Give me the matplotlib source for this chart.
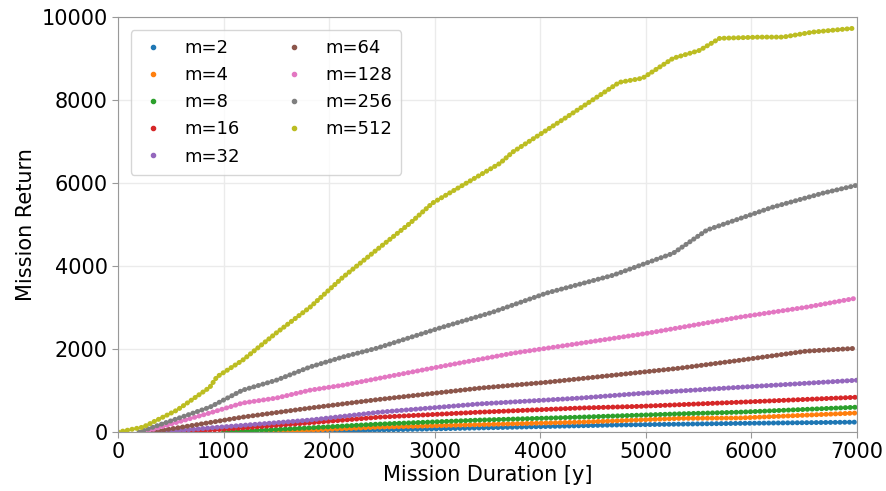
import matplotlib
matplotlib.use("Agg")
import matplotlib.pyplot as plt
from matplotlib.lines import Line2D

# values (x = mission duration, y = mission return)
labels = ["m=2", "m=4", "m=8", "m=16", "m=32", "m=64", "m=128", "m=256", "m=512"]
colors = ["tab:blue", "tab:orange", "tab:green", "tab:red", "tab:purple",
          "tab:brown", "tab:pink", "tab:gray", "tab:olive"]

x_m2 = [1800, 2480, 3430, 4690, 5890, 7000]
y_m2 = [0, 50, 100, 170, 210, 240]
x_m4 = [1400, 2480, 3430, 4380, 5320, 5890, 7000]
y_m4 = [0, 120, 180, 240, 330, 340, 460]
x_m8 = [1000, 1800, 2450, 3430, 4380, 5320, 5890, 7000]
y_m8 = [0, 100, 190, 290, 360, 440, 480, 600]
x_m16 = [600, 1180, 1800, 2480, 3430, 4380, 4940, 5890, 7000]
y_m16 = [0, 100, 220, 360, 480, 580, 620, 720, 840]
x_m32 = [400, 870, 1820, 2480, 3430, 4380, 4940, 5890, 7000]
y_m32 = [0, 100, 290, 480, 680, 820, 930, 1080, 1250]
x_m64 = [300, 560, 1180, 1820, 2450, 3430, 4060, 4690, 5320, 5890, 6520, 7000]
y_m64 = [0, 100, 360, 580, 780, 1060, 1200, 1370, 1540, 1730, 1950, 2020]
x_m128 = [250, 400, 870, 1180, 1500, 1820, 2130, 2480, 3120, 3740, 4380, 5010, 5890, 6520, 7000]
y_m128 = [0, 120, 460, 700, 820, 1010, 1130, 1300, 1610, 1900, 2140, 2380, 2770, 3010, 3230]
x_m256 = [200, 400, 870, 1180, 1500, 1820, 2130, 2450, 3050, 3550, 4060, 4690, 5260, 5580, 6200, 6680, 7000]
y_m256 = [0, 180, 600, 1010, 1250, 1570, 1810, 2020, 2510, 2890, 3350, 3780, 4310, 4870, 5420, 5760, 5950]
x_m512 = [0, 237, 560, 870, 937, 1180, 1500, 1820, 2130, 2450, 2770, 2980, 3620, 3740,
          4250, 4750, 4970, 5260, 5510, 5700, 6080, 6300, 6580, 6960]
y_m512 = [0, 120, 530, 1080, 1330, 1730, 2390, 3010, 3730, 4390, 5040, 5520, 6480, 6750,
          7590, 8430, 8530, 9010, 9200, 9490, 9520, 9520, 9640, 9730]

xs = [x_m2, x_m4, x_m8, x_m16, x_m32, x_m64, x_m128, x_m256, x_m512]
ys = [y_m2, y_m4, y_m8, y_m16, y_m32, y_m64, y_m128, y_m256, y_m512]

fig = plt.figure(figsize=(8.87, 4.91), dpi=100)
ax = fig.add_axes([0.133, 0.12, 0.833, 0.845])

for x, y, c in zip(xs, ys, colors):
    ax.plot(x, y, color=c, lw=3.6, ls=(0, (0.05, 0.9)), dash_capstyle="round")

ax.set_xlim(0, 7000)
ax.set_ylim(0, 10000)
ax.grid(True, color="#ebebeb", lw=1)
ax.set_axisbelow(True)
for sp in ax.spines.values():
    sp.set_color("#999999")
ax.tick_params(labelsize=15, color="#999999", length=4)
ax.set_xlabel("Mission Duration [y]", fontsize=15, labelpad=2)
ax.set_ylabel("Mission Return", fontsize=15)

handles = [Line2D([], [], ls="", marker=".", color=c, markersize=6) for c in colors]
ax.legend(handles, labels, loc="upper left", ncol=2, fontsize=13,
          handlelength=1.5, handletextpad=1.0, columnspacing=2.2,
          labelspacing=0.5, borderpad=0.5, bbox_to_anchor=(0.005, 0.99))

fig.savefig("out.png", dpi=100)
